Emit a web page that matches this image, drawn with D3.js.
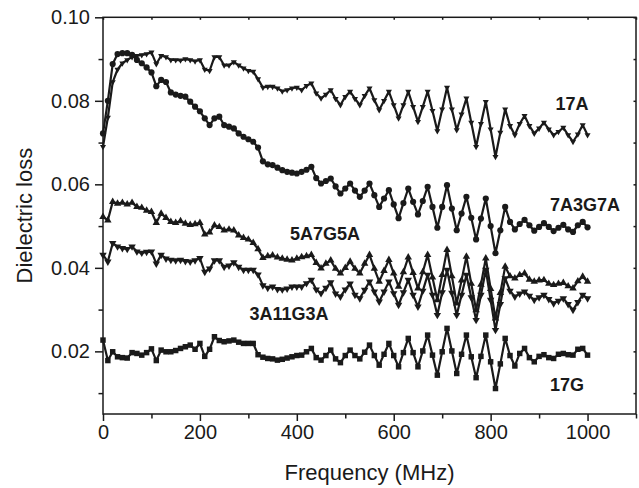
<!DOCTYPE html>
<html><head><meta charset="utf-8">
<script src="https://cdn.jsdelivr.net/npm/d3@7"></script>
<style>
html,body{margin:0;padding:0;background:#fff;}
svg text{font-family:"Liberation Sans",Arial,Helvetica,sans-serif;fill:#1a1a1a;}
</style></head>
<body><svg id="c" width="639" height="488"></svg>
<script>
const freq = d3.range(0, 1001, 10);
const xTicks = [0, 200, 400, 600, 800, 1000];
const xMinor = [100, 300, 500, 700, 900, 1100];
const yTicks = [0.02, 0.04, 0.06, 0.08, 0.10];
const yMinor = [0.01, 0.03, 0.05, 0.07, 0.09];

const s17A = [0.069,0.076,0.0845,0.0875,0.089,0.0898,0.0905,0.0908,0.091,0.0912,
0.0916,0.0888,0.0908,0.0905,0.0898,0.0898,0.0897,0.09,0.0898,0.0895,
0.0898,0.0875,0.0872,0.0905,0.0905,0.0885,0.0885,0.0893,0.0885,0.0878,
0.0872,0.087,0.0852,0.0832,0.0834,0.0834,0.083,0.0823,0.0826,0.083,
0.0832,0.0826,0.0836,0.0842,0.0818,0.0806,0.0815,0.0826,0.0805,0.079,
0.081,0.0822,0.0805,0.079,0.0812,0.083,0.0802,0.0778,0.08,0.0822,
0.079,0.0758,0.079,0.0822,0.0786,0.075,0.0786,0.0822,0.0776,0.0728,
0.078,0.0832,0.078,0.073,0.0768,0.0806,0.0748,0.069,0.0745,0.0798,
0.0732,0.0666,0.0724,0.078,0.074,0.0718,0.0745,0.0764,0.074,0.0722,
0.0734,0.0748,0.0732,0.0718,0.0726,0.0736,0.0718,0.0702,0.072,0.0742,0.0718];

const s7A3G7A = [0.0722,0.08,0.0888,0.0912,0.0914,0.0914,0.091,0.0898,0.089,0.088,
0.0868,0.0835,0.085,0.0845,0.082,0.0815,0.0812,0.081,0.0798,0.0786,
0.0775,0.0758,0.0742,0.0758,0.0762,0.0742,0.0738,0.0734,0.0722,0.0714,
0.0708,0.0702,0.0688,0.0655,0.0648,0.0646,0.064,0.0634,0.063,0.0628,
0.0626,0.063,0.0635,0.0642,0.0615,0.0602,0.0608,0.0614,0.0595,0.0578,
0.059,0.0602,0.0585,0.057,0.0585,0.0602,0.0574,0.0546,0.0566,0.0586,
0.0552,0.0519,0.0555,0.059,0.0558,0.0528,0.056,0.0594,0.0546,0.0496,
0.0546,0.0598,0.0542,0.049,0.053,0.057,0.052,0.0468,0.0518,0.0566,
0.05,0.0435,0.049,0.0546,0.051,0.0492,0.0505,0.0515,0.0502,0.0489,
0.0498,0.0507,0.0498,0.0488,0.0496,0.0503,0.0492,0.0486,0.0502,0.051,0.0497];

const s5A7G5A = [0.0522,0.0514,0.0558,0.0554,0.0556,0.0552,0.0556,0.0546,0.0544,0.0537,
0.0534,0.0508,0.053,0.052,0.051,0.0508,0.0512,0.0506,0.0503,0.0505,
0.0508,0.048,0.0485,0.0502,0.0498,0.049,0.0492,0.049,0.0478,0.0472,
0.0468,0.046,0.0445,0.0424,0.0428,0.043,0.0425,0.0422,0.042,0.0418,
0.0422,0.0426,0.0428,0.0431,0.0412,0.0399,0.041,0.0418,0.0398,0.0387,
0.04,0.0415,0.0398,0.0387,0.041,0.0431,0.0398,0.0367,0.0393,0.0419,
0.0387,0.0355,0.039,0.0425,0.0388,0.0351,0.039,0.0431,0.0377,0.0323,
0.0383,0.0443,0.038,0.0315,0.037,0.0427,0.0362,0.0299,0.036,0.0423,
0.035,0.0279,0.034,0.0403,0.038,0.0375,0.0383,0.0387,0.0372,0.0367,
0.037,0.0371,0.0362,0.0359,0.0362,0.0364,0.0356,0.0351,0.0368,0.0379,0.0367];

const s3A11G3A = [0.0431,0.0415,0.0459,0.0451,0.0447,0.0445,0.0451,0.0439,0.0436,0.0438,
0.0439,0.041,0.0431,0.0422,0.0419,0.0418,0.0419,0.0416,0.0415,0.0418,
0.0423,0.039,0.0398,0.0418,0.0418,0.0402,0.0405,0.0413,0.0402,0.0395,
0.0395,0.0395,0.0384,0.0358,0.0352,0.0355,0.0349,0.0348,0.035,0.0355,
0.0355,0.0355,0.0363,0.0371,0.0348,0.0339,0.0352,0.0365,0.0338,0.0331,
0.0348,0.0362,0.0335,0.0327,0.0347,0.0367,0.0343,0.0319,0.0343,0.0367,
0.0339,0.0311,0.0341,0.0371,0.0335,0.0307,0.0345,0.0383,0.0335,0.0287,
0.0341,0.0395,0.034,0.0287,0.0335,0.0383,0.0329,0.0275,0.0335,0.0395,
0.0323,0.0251,0.0313,0.0375,0.0345,0.0331,0.0338,0.0343,0.0333,0.0323,
0.0329,0.0335,0.0325,0.0315,0.0321,0.0327,0.0313,0.0299,0.0318,0.0335,0.0327];

const s17G = [0.0227,0.0178,0.0199,0.0187,0.0185,0.0184,0.0197,0.0195,0.0191,0.0197,
0.0206,0.0178,0.0203,0.0199,0.0199,0.0202,0.0207,0.0211,0.0215,0.0205,
0.0219,0.0188,0.0205,0.0235,0.0226,0.0223,0.0225,0.0227,0.0222,0.0219,
0.0219,0.0219,0.0192,0.0186,0.0183,0.0182,0.0179,0.0181,0.0184,0.0187,
0.019,0.0191,0.0199,0.0207,0.0185,0.0179,0.019,0.0203,0.0182,0.0173,
0.019,0.0203,0.019,0.0182,0.0198,0.0215,0.019,0.0167,0.0193,0.0219,
0.019,0.0163,0.0197,0.0231,0.0197,0.0163,0.0201,0.0239,0.0191,0.0143,
0.0199,0.0255,0.0201,0.0147,0.0193,0.0239,0.0187,0.0137,0.0188,0.0239,
0.0175,0.0111,0.017,0.0231,0.019,0.0165,0.0195,0.0207,0.0185,0.0175,
0.0188,0.0192,0.0185,0.0183,0.0193,0.0195,0.0192,0.0191,0.0205,0.0207,0.0191];

const seriesNames = ["17A", "7A3G7A", "5A7G5A", "3A11G3A", "17G"];

const svg = d3.select("#c");
const L = 103, R = 636, T = 17.3, B = 414;
const x = d3.scaleLinear().domain([0, 1100]).range([L, R]);
const y = d3.scaleLinear().domain([0.005, 0.10]).range([B, T]);
const ink = "#1a1a1a";

const series = [
  {name: seriesNames[0], vals: s17A, sym: d3.symbolTriangle, size: 16, rot: 180, lab: [572, 104]},
  {name: seriesNames[1], vals: s7A3G7A, sym: d3.symbolCircle, size: 30, rot: 0, lab: [585, 205]},
  {name: seriesNames[2], vals: s5A7G5A, sym: d3.symbolTriangle, size: 24, rot: 0, lab: [325, 234]},
  {name: seriesNames[3], vals: s3A11G3A, sym: d3.symbolTriangle, size: 24, rot: 180, lab: [289, 314]},
  {name: seriesNames[4], vals: s17G, sym: d3.symbolSquare, size: 30, rot: 0, lab: [567, 385]}
];

const line = d3.line().x((d, i) => x(freq[i])).y(d => y(d));
series.forEach(s => {
  svg.append("path").attr("d", line(s.vals)).attr("fill", "none")
    .attr("stroke", ink).attr("stroke-width", 2.2).attr("stroke-linejoin", "round");
  const sym = d3.symbol().type(s.sym).size(s.size);
  svg.append("g").selectAll("path").data(s.vals).join("path")
    .attr("d", sym)
    .attr("transform", (d, i) => `translate(${x(freq[i])},${y(d)}) rotate(${s.rot})`)
    .attr("fill", ink);
  svg.append("text").attr("x", s.lab[0]).attr("y", s.lab[1]).attr("text-anchor", "middle")
    .attr("dominant-baseline", "central").attr("font-size", 18).attr("font-weight", "bold")
    .text(s.name);
});

// frame
svg.append("rect").attr("x", L).attr("y", T).attr("width", R - L).attr("height", B - T)
  .attr("fill", "none").attr("stroke", ink).attr("stroke-width", 1.5);

// bottom axis
const xAxis = d3.axisBottom(x).tickValues(xTicks).tickSize(7).tickPadding(4).tickFormat(d3.format("d"));
const gx = svg.append("g").attr("transform", `translate(0,${B})`).call(xAxis);
gx.select(".domain").remove();
gx.selectAll("line").attr("stroke", ink).attr("stroke-width", 1.5);
gx.selectAll("text").attr("font-size", 20).attr("fill", ink);
const gxm = svg.append("g").attr("transform", `translate(0,${B})`)
  .call(d3.axisBottom(x).tickValues(xMinor).tickSize(4.5).tickFormat(""));
gxm.select(".domain").remove();
gxm.selectAll("line").attr("stroke", ink).attr("stroke-width", 1.5);

// top ticks (inward)
const gt = svg.append("g").attr("transform", `translate(0,${T})`)
  .call(d3.axisBottom(x).tickValues(xTicks.concat(xMinor)).tickSize(2.5).tickFormat(""));
gt.select(".domain").remove();
gt.selectAll("line").attr("stroke", ink).attr("stroke-width", 1.5);

// left axis
const yAxis = d3.axisLeft(y).tickValues(yTicks).tickSize(8).tickPadding(5).tickFormat(d3.format(".2f"));
const gy = svg.append("g").attr("transform", `translate(${L},0)`).call(yAxis);
gy.select(".domain").remove();
gy.selectAll("line").attr("stroke", ink).attr("stroke-width", 1.5);
gy.selectAll("text").attr("font-size", 20).attr("fill", ink);
const gym = svg.append("g").attr("transform", `translate(${L},0)`)
  .call(d3.axisLeft(y).tickValues(yMinor).tickSize(4.5).tickFormat(""));
gym.select(".domain").remove();
gym.selectAll("line").attr("stroke", ink).attr("stroke-width", 1.5);

// right ticks (inward)
const gr = svg.append("g").attr("transform", `translate(${R},0)`)
  .call(d3.axisRight(y).tickValues(yTicks.concat(yMinor)).tickSize(-2.5).tickFormat(""));
gr.select(".domain").remove();
gr.selectAll("line").attr("stroke", ink).attr("stroke-width", 1.5);

// titles
svg.append("text").attr("x", (L + R) / 2).attr("y", 480).attr("text-anchor", "middle")
  .attr("font-size", 22).text("Frequency (MHz)");
svg.append("text").attr("transform", `translate(32,${(T + B) / 2}) rotate(-90)`)
  .attr("text-anchor", "middle").attr("font-size", 22).text("Dielectric loss");
</script></body></html>
